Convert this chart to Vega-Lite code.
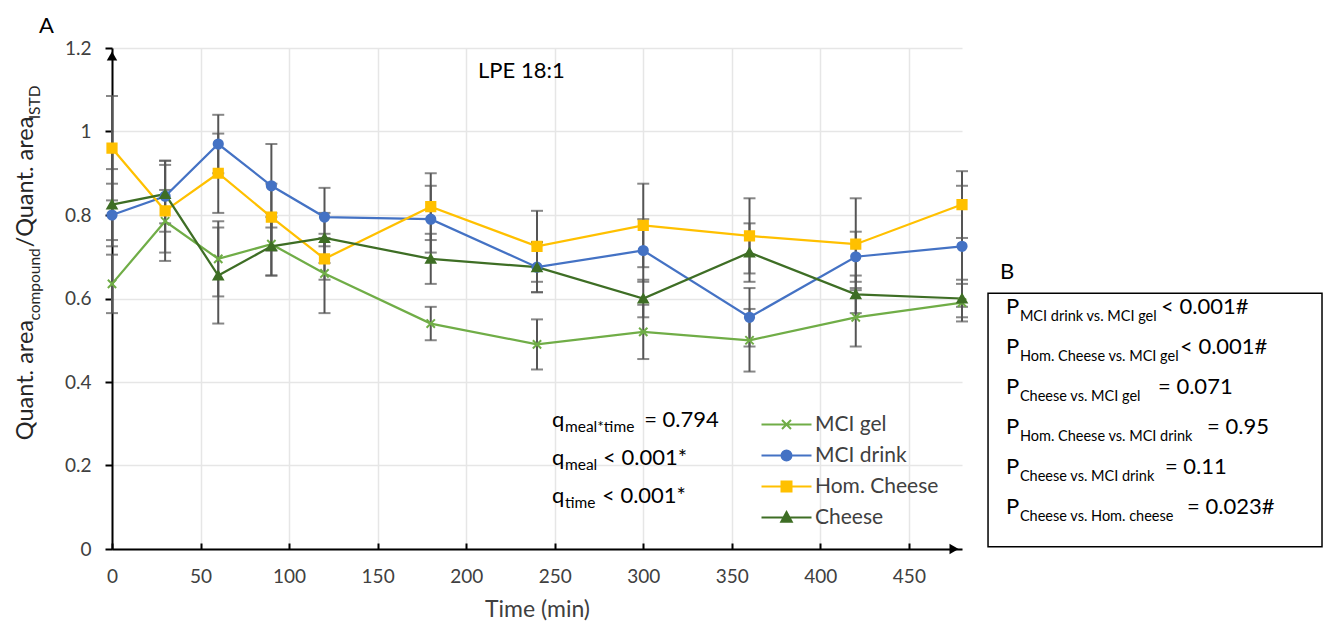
{
  "$schema": "https://vega.github.io/schema/vega-lite/v6.json",
  "width": 850,
  "height": 501,
  "autosize": {"type": "none"},
  "padding": {"left": 112, "top": 48, "right": 367, "bottom": 79},
  "background": "white",
  "config": {"view": {"stroke": null}, "font": "Lato", "text": {"font": "Lato"}},
  "datasets": {
    "series": [
      {"t": 0, "series": "MCI gel", "mean": 0.635, "sd": 0.07},
      {"t": 30, "series": "MCI gel", "mean": 0.785, "sd": 0.075},
      {"t": 60, "series": "MCI gel", "mean": 0.695, "sd": 0.09},
      {"t": 90, "series": "MCI gel", "mean": 0.73, "sd": 0.075},
      {"t": 120, "series": "MCI gel", "mean": 0.66, "sd": 0.095},
      {"t": 180, "series": "MCI gel", "mean": 0.54, "sd": 0.04},
      {"t": 240, "series": "MCI gel", "mean": 0.49, "sd": 0.06},
      {"t": 300, "series": "MCI gel", "mean": 0.52, "sd": 0.065},
      {"t": 360, "series": "MCI gel", "mean": 0.5, "sd": 0.075},
      {"t": 420, "series": "MCI gel", "mean": 0.555, "sd": 0.07},
      {"t": 480, "series": "MCI gel", "mean": 0.59, "sd": 0.045},
      {"t": 0, "series": "MCI drink", "mean": 0.8, "sd": 0.075},
      {"t": 30, "series": "MCI drink", "mean": 0.845, "sd": 0.085},
      {"t": 60, "series": "MCI drink", "mean": 0.97, "sd": 0.07},
      {"t": 90, "series": "MCI drink", "mean": 0.87, "sd": 0.1},
      {"t": 120, "series": "MCI drink", "mean": 0.795, "sd": 0.07},
      {"t": 180, "series": "MCI drink", "mean": 0.79, "sd": 0.08},
      {"t": 240, "series": "MCI drink", "mean": 0.675, "sd": 0.06},
      {"t": 300, "series": "MCI drink", "mean": 0.715, "sd": 0.075},
      {"t": 360, "series": "MCI drink", "mean": 0.555, "sd": 0.07},
      {"t": 420, "series": "MCI drink", "mean": 0.7, "sd": 0.06},
      {"t": 480, "series": "MCI drink", "mean": 0.725, "sd": 0.145},
      {"t": 0, "series": "Hom. Cheese", "mean": 0.96, "sd": 0.125},
      {"t": 30, "series": "Hom. Cheese", "mean": 0.81, "sd": 0.12},
      {"t": 60, "series": "Hom. Cheese", "mean": 0.9, "sd": 0.095},
      {"t": 90, "series": "Hom. Cheese", "mean": 0.795, "sd": 0.08},
      {"t": 120, "series": "Hom. Cheese", "mean": 0.695, "sd": 0.05},
      {"t": 180, "series": "Hom. Cheese", "mean": 0.82, "sd": 0.08},
      {"t": 240, "series": "Hom. Cheese", "mean": 0.725, "sd": 0.085},
      {"t": 300, "series": "Hom. Cheese", "mean": 0.775, "sd": 0.1},
      {"t": 360, "series": "Hom. Cheese", "mean": 0.75, "sd": 0.09},
      {"t": 420, "series": "Hom. Cheese", "mean": 0.73, "sd": 0.11},
      {"t": 480, "series": "Hom. Cheese", "mean": 0.825, "sd": 0.08},
      {"t": 0, "series": "Cheese", "mean": 0.825, "sd": 0.085},
      {"t": 30, "series": "Cheese", "mean": 0.85, "sd": 0.07},
      {"t": 60, "series": "Cheese", "mean": 0.655, "sd": 0.115},
      {"t": 90, "series": "Cheese", "mean": 0.725, "sd": 0.07},
      {"t": 120, "series": "Cheese", "mean": 0.745, "sd": 0.06},
      {"t": 180, "series": "Cheese", "mean": 0.695, "sd": 0.06},
      {"t": 240, "series": "Cheese", "mean": 0.675, "sd": 0.06},
      {"t": 300, "series": "Cheese", "mean": 0.6, "sd": 0.045},
      {"t": 360, "series": "Cheese", "mean": 0.71, "sd": 0.07},
      {"t": 420, "series": "Cheese", "mean": 0.61, "sd": 0.045},
      {"t": 480, "series": "Cheese", "mean": 0.6, "sd": 0.045}
    ],
    "notes": [
      {"block": "label", "main": "A", "xm": -41.2, "y": 1.236},
      {"block": "label", "main": "LPE 18:1", "xm": 206.7, "y": 1.129},
      {"block": "label", "main": "B", "xm": 501.5, "y": 0.6478},
      {"block": "q", "main": "q", "sub": "meal*time", "rest": "= 0.794", "xm": 248.5, "xs": 255.8, "xr": 300.5, "y": 0.2924},
      {"block": "q", "main": "q", "sub": "meal", "rest": "< 0.001*", "xm": 248.5, "xs": 255.8, "xr": 277.3, "y": 0.2008},
      {"block": "q", "main": "q", "sub": "time", "rest": "< 0.001*", "xm": 248.5, "xs": 255.8, "xr": 276.7, "y": 0.11},
      {"block": "p", "main": "P", "sub": "MCI drink vs. MCI gel", "rest": "< 0.001#", "xm": 504.9, "xs": 512.7, "xr": 592.4, "y": 0.5634},
      {"block": "p", "main": "P", "sub": "Hom. Cheese vs. MCI gel", "rest": "< 0.001#", "xm": 504.9, "xs": 512.7, "xr": 603.1, "y": 0.4678},
      {"block": "p", "main": "P", "sub": "Cheese vs. MCI gel", "rest": "= 0.071", "xm": 504.9, "xs": 512.7, "xr": 590.7, "y": 0.3722},
      {"block": "p", "main": "P", "sub": "Hom. Cheese vs. MCI drink", "rest": "= 0.95", "xm": 504.9, "xs": 512.7, "xr": 618.4, "y": 0.2766},
      {"block": "p", "main": "P", "sub": "Cheese vs. MCI drink", "rest": "= 0.11", "xm": 504.9, "xs": 512.7, "xr": 594.6, "y": 0.1793},
      {"block": "p", "main": "P", "sub": "Cheese vs. Hom. cheese", "rest": "= 0.023#", "xm": 504.9, "xs": 512.7, "xr": 607.1, "y": 0.0829},
      {"block": "ytitle", "main": "Quant. area", "xm": -44.6, "y": 0.2606},
      {"block": "ytitle", "main": "/Quant. area", "xm": -44.6, "y": 0.7227},
      {"block": "ytitle_sub", "main": "compound", "xm": -40.7, "y": 0.5474},
      {"block": "ytitle_sub", "main": "ISTD", "xm": -40.7, "y": 1.0293}
    ]
  },
  "data": {"name": "series"},
  "layer": [
    {
      "mark": {"type": "errorbar", "ticks": {"size": 12, "thickness": 2, "color": "#555555"}, "rule": {"strokeWidth": 2, "color": "#555555"}, "color": "#555555"},
      "encoding": {
        "x": {"field": "t", "type": "quantitative",
          "scale": {"domain": [0, 480], "nice": false, "zero": false},
          "axis": {"values": [0, 50, 100, 150, 200, 250, 300, 350, 400, 450], "title": "Time (min)", "grid": true, "gridColor": "#E6E6E6", "gridWidth": 1.5,
            "domainColor": "#000000", "domainWidth": 2, "tickColor": "#000000", "tickWidth": 2, "tickSize": -6,
            "labelFont": "Lato", "labelFontSize": 19, "labelColor": "#404040", "labelPadding": 24, "labelFlush": false, "labelOverlap": false,
            "titleFont": "Lato", "titleFontSize": 23, "titleFontWeight": "normal", "titleColor": "#404040", "titlePadding": 12}},
        "y": {"field": "mean", "type": "quantitative",
          "scale": {"domain": [0, 1.2], "nice": false, "zero": true},
          "axis": {"values": [0, 0.2, 0.4, 0.6, 0.8, 1, 1.2], "format": "~g", "title": null, "grid": true, "gridColor": "#E6E6E6", "gridWidth": 1.5,
            "domainColor": "#000000", "domainWidth": 2, "tickColor": "#000000", "tickWidth": 2, "tickSize": 7,
            "labelFont": "Lato", "labelFontSize": 19, "labelColor": "#404040", "labelPadding": 14, "labelFlush": false, "labelOverlap": false}},
        "yError": {"field": "sd"},
        "detail": {"field": "series"}
      }
    },
    {
      "mark": {"type": "line", "strokeWidth": 2.25},
      "encoding": {
        "x": {"field": "t", "type": "quantitative"},
        "y": {"field": "mean", "type": "quantitative"},
        "color": {"field": "series", "type": "nominal",
          "scale": {"domain": ["MCI gel", "MCI drink", "Hom. Cheese", "Cheese"], "range": ["#70AD47", "#4472C4", "#FFC000", "#3E6E25"]},
          "legend": {"title": null, "orient": "none", "legendX": 664, "legendY": 366, "padding": 0,
            "labelFont": "Lato", "labelFontSize": 21, "labelColor": "#404040", "labelOffset": 18, "rowPadding": 9, "symbolSize": 100,
            "encode": {"symbols": {"update": {
              "shape": {"signal": "datum.value === 'MCI gel' ? 'M-5,0H5M-0.9,-0.9L0.9,0.9M-0.9,0.9L0.9,-0.9' : datum.value === 'MCI drink' ? 'M-5,0H5M-1,0A1,1 0 1,1 1,0A1,1 0 1,1 -1,0Z' : datum.value === 'Hom. Cheese' ? 'M-5,0H5M-1,-1H1V1H-1Z' : 'M-5,0H5M0,-1.1L1.05,0.85H-1.05Z'"},
              "stroke": {"signal": "scale('color', datum.value)"},
              "fill": {"signal": "scale('color', datum.value)"},
              "strokeWidth": {"value": 2},
              "opacity": {"value": 1}
            }}}}
        }
      }
    },
    {
      "mark": {"type": "point", "filled": true, "size": 85, "strokeWidth": 2, "opacity": 1},
      "encoding": {
        "x": {"field": "t", "type": "quantitative"},
        "y": {"field": "mean", "type": "quantitative"},
        "color": {"field": "series", "type": "nominal"},
        "stroke": {"field": "series", "type": "nominal", "legend": null,
          "scale": {"domain": ["MCI gel", "MCI drink", "Hom. Cheese", "Cheese"], "range": ["#70AD47", "#4472C4", "#FFC000", "#3E6E25"]}},
        "shape": {"field": "series", "type": "nominal", "legend": null,
          "scale": {"domain": ["Cheese", "Hom. Cheese", "MCI drink", "MCI gel"], "range": ["triangle-up", "square", "circle", "M-0.9,-0.9L0.9,0.9M-0.9,0.9L0.9,-0.9"]}}
      }
    },
    {
      "data": {"values": [{}]},
      "mark": {"type": "point", "shape": "triangle-up", "filled": true, "color": "#000000", "size": 110, "opacity": 1},
      "encoding": {"x": {"datum": 0}, "y": {"datum": 1.181}}
    },
    {
      "data": {"values": [{}]},
      "mark": {"type": "point", "shape": "triangle-right", "filled": true, "color": "#000000", "size": 110, "opacity": 1},
      "encoding": {"x": {"datum": 475.5}, "y": {"datum": 0}}
    },
    {
      "data": {"values": [{}]},
      "mark": {"type": "rect", "filled": false, "stroke": "#000000", "strokeWidth": 1.5},
      "encoding": {"x": {"datum": 494.7}, "x2": {"datum": 683.3}, "y": {"datum": 0.6127}, "y2": {"datum": 0.0055}}
    },
    {
      "data": {"name": "notes"},
      "transform": [{"filter": "datum.block === 'label'"}],
      "mark": {"type": "text", "align": "left", "baseline": "alphabetic", "fontSize": 22, "color": "#000000"},
      "encoding": {"x": {"field": "xm", "type": "quantitative"}, "y": {"field": "y", "type": "quantitative"}, "text": {"field": "main"}}
    },
    {
      "data": {"name": "notes"},
      "transform": [{"filter": "datum.block === 'q'"}],
      "mark": {"type": "text", "align": "left", "baseline": "alphabetic", "fontSize": 22, "color": "#000000"},
      "encoding": {"x": {"field": "xm", "type": "quantitative"}, "y": {"field": "y", "type": "quantitative"}, "text": {"field": "main"}}
    },
    {
      "data": {"name": "notes"},
      "transform": [{"filter": "datum.block === 'q'"}],
      "mark": {"type": "text", "align": "left", "baseline": "alphabetic", "fontSize": 15.5, "dy": 5, "color": "#000000"},
      "encoding": {"x": {"field": "xs", "type": "quantitative"}, "y": {"field": "y", "type": "quantitative"}, "text": {"field": "sub"}}
    },
    {
      "data": {"name": "notes"},
      "transform": [{"filter": "datum.block === 'q'"}],
      "mark": {"type": "text", "align": "left", "baseline": "alphabetic", "fontSize": 22, "color": "#000000"},
      "encoding": {"x": {"field": "xr", "type": "quantitative"}, "y": {"field": "y", "type": "quantitative"}, "text": {"field": "rest"}}
    },
    {
      "data": {"name": "notes"},
      "transform": [{"filter": "datum.block === 'p'"}],
      "mark": {"type": "text", "align": "left", "baseline": "alphabetic", "fontSize": 22, "color": "#000000"},
      "encoding": {"x": {"field": "xm", "type": "quantitative"}, "y": {"field": "y", "type": "quantitative"}, "text": {"field": "main"}}
    },
    {
      "data": {"name": "notes"},
      "transform": [{"filter": "datum.block === 'p'"}],
      "mark": {"type": "text", "align": "left", "baseline": "alphabetic", "fontSize": 14.5, "dy": 7, "color": "#000000"},
      "encoding": {"x": {"field": "xs", "type": "quantitative"}, "y": {"field": "y", "type": "quantitative"}, "text": {"field": "sub"}}
    },
    {
      "data": {"name": "notes"},
      "transform": [{"filter": "datum.block === 'p'"}],
      "mark": {"type": "text", "align": "left", "baseline": "alphabetic", "fontSize": 22, "color": "#000000"},
      "encoding": {"x": {"field": "xr", "type": "quantitative"}, "y": {"field": "y", "type": "quantitative"}, "text": {"field": "rest"}}
    },
    {
      "data": {"name": "notes"},
      "transform": [{"filter": "datum.block === 'ytitle'"}],
      "mark": {"type": "text", "align": "left", "baseline": "alphabetic", "angle": 270, "fontSize": 23.5, "color": "#262626"},
      "encoding": {"x": {"field": "xm", "type": "quantitative"}, "y": {"field": "y", "type": "quantitative"}, "text": {"field": "main"}}
    },
    {
      "data": {"name": "notes"},
      "transform": [{"filter": "datum.block === 'ytitle_sub'"}],
      "mark": {"type": "text", "align": "left", "baseline": "alphabetic", "angle": 270, "fontSize": 15.5, "color": "#262626"},
      "encoding": {"x": {"field": "xm", "type": "quantitative"}, "y": {"field": "y", "type": "quantitative"}, "text": {"field": "main"}}
    }
  ]
}
